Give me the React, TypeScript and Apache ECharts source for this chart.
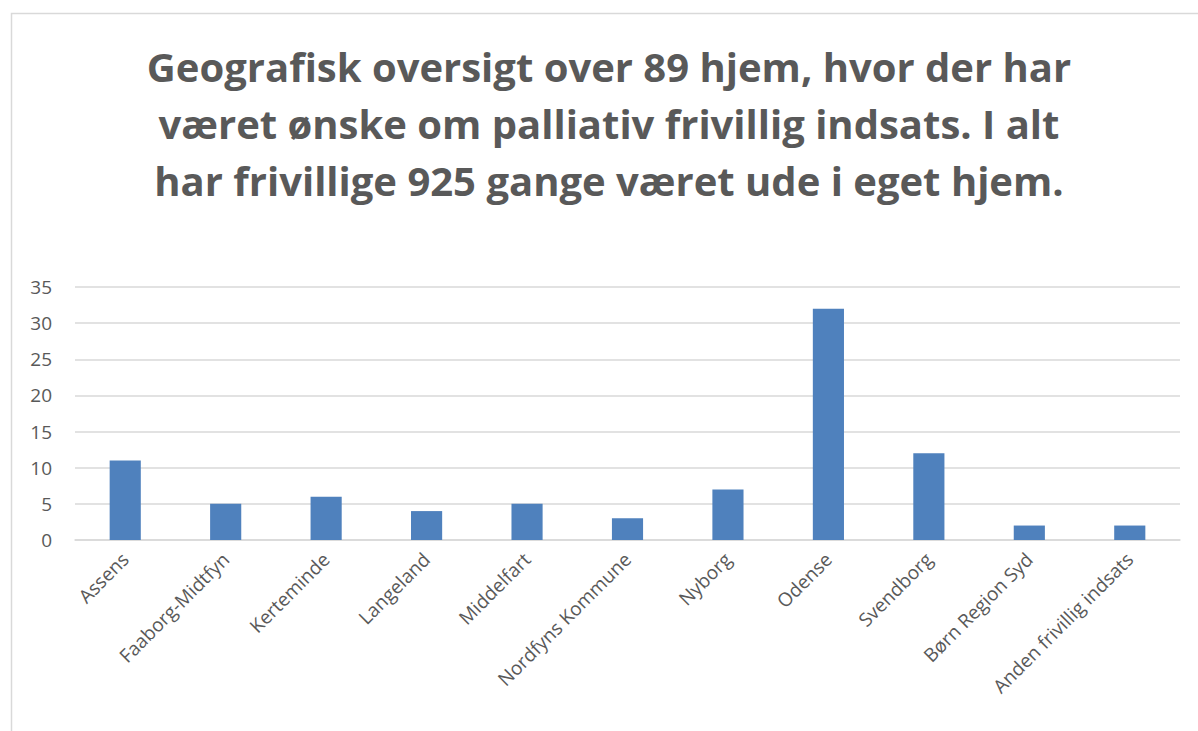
import React, { useEffect, useRef } from "react";
import * as echarts from "echarts";

const categories = [
  "Assens",
  "Faaborg-Midtfyn",
  "Kerteminde",
  "Langeland",
  "Middelfart",
  "Nordfyns Kommune",
  "Nyborg",
  "Odense",
  "Svendborg",
  "Børn Region Syd",
  "Anden frivillig indsats",
];
const values = [11, 5, 6, 4, 5, 3, 7, 32, 12, 2, 2];
const titleText =
  "Geografisk oversigt over 89 hjem, hvor der har\nværet ønske om palliativ frivillig indsats. I alt\nhar frivillige 925 gange været ude i eget hjem.";

export default function App() {
  const ref = useRef<HTMLDivElement>(null);
  useEffect(() => {
    if (!ref.current) return;
    const chart = echarts.init(ref.current, undefined, { renderer: "svg" });
    chart.setOption({
      animation: false,
      backgroundColor: "#ffffff",
      graphic: [
        {
          type: "rect",
          shape: { x: 11.5, y: 13.5, width: 1200, height: 740 },
          style: { fill: "none", stroke: "#d9d9d9", lineWidth: 1.5 },
          silent: true,
        },
        {
          type: "text",
          x: 609,
          y: 38,
          silent: true,
          style: {
            text: titleText,
            align: "center",
            verticalAlign: "top",
            font: "bold 40px 'Open Sans'",
            fill: "#595959",
            lineHeight: 57,
          },
        },
      ],
      grid: { left: 75, right: 18, top: 287, bottom: 191, containLabel: false },
      xAxis: {
        type: "category",
        data: categories,
        axisLine: { lineStyle: { color: "#d9d9d9", width: 1.5 } },
        axisTick: { show: false },
        axisLabel: {
          rotate: 45,
          interval: 0,
          color: "#595959",
          fontSize: 19,
          fontFamily: "Open Sans",
          margin: 16,
        },
      },
      yAxis: {
        type: "value",
        min: 0,
        max: 35,
        interval: 5,
        axisLine: { show: false },
        axisTick: { show: false },
        splitLine: { lineStyle: { color: "#d9d9d9", width: 1.5 } },
        axisLabel: {
          color: "#595959",
          fontSize: 19,
          fontFamily: "Open Sans",
          margin: 23,
        },
      },
      series: [
        {
          type: "bar",
          data: values,
          barWidth: "31%",
          itemStyle: { color: "#4f81bd" },
        },
      ],
    });
    return () => chart.dispose();
  }, []);
  return (
    <div
      ref={ref}
      style={{ position: "fixed", left: 0, top: 0, width: 1198, height: 731 }}
    />
  );
}
